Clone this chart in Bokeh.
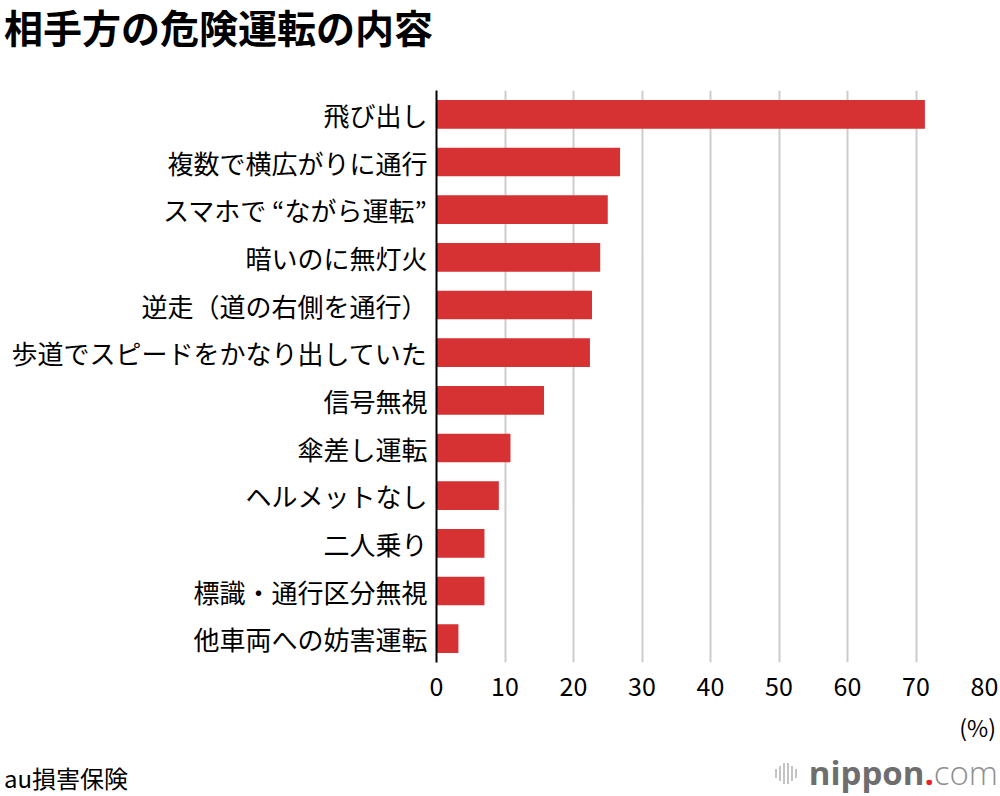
from bokeh.embed import file_html
from bokeh.layouts import column
from bokeh.models import ColumnDataSource, Div, FactorRange, FixedTicker
from bokeh.plotting import figure
from bokeh.resources import INLINE

# data (percent)
categories = [
    "飛び出し",
    "複数で横広がりに通行",
    "スマホで “ながら運転”",
    "暗いのに無灯火",
    "逆走（道の右側を通行）",
    "歩道でスピードをかなり出していた",
    "信号無視",
    "傘差し運転",
    "ヘルメットなし",
    "二人乗り",
    "標識・通行区分無視",
    "他車両への妨害運転",
]
shares = [71.3, 26.8, 25.0, 23.9, 22.7, 22.4, 15.7, 10.8, 9.1, 7.0, 7.0, 3.2]
x_ticks = [0, 10, 20, 30, 40, 50, 60, 70, 80]

title_text = "相手方の危険運転の内容"
unit_text = "(%)"
source_text = "au損害保険"

FONT = "Noto Sans CJK JP"
RED = "#d63133"

source = ColumnDataSource(dict(cat=categories, share=shares))

p = figure(
    width=1000,
    height=648,
    x_range=(0, 80),
    y_range=FactorRange(factors=categories[::-1]),
    output_backend="svg",
    toolbar_location=None,
    min_border_left=436,
    min_border_right=16,
    min_border_top=30,
    min_border_bottom=46,
)
p.outline_line_color = None
p.background_fill_color = "white"

p.hbar(y="cat", right="share", height=0.6, source=source, color=RED, line_color=None)

# x axis: labels only, vertical grid
p.xaxis.ticker = FixedTicker(ticks=x_ticks)
p.xaxis.axis_line_color = None
p.xaxis.major_tick_line_color = None
p.xaxis.minor_tick_line_color = None
p.xaxis.major_tick_out = 0
p.xaxis.major_tick_in = 0
p.xaxis.major_label_standoff = 14
p.xaxis.major_label_text_font = FONT
p.xaxis.major_label_text_font_size = "25px"
p.xaxis.major_label_text_color = "black"

p.xgrid.ticker = FixedTicker(ticks=x_ticks)
p.xgrid.grid_line_color = "#cccccc"
p.xgrid.grid_line_width = 2
p.ygrid.grid_line_color = None

# y axis: category names, black base line
p.yaxis.axis_line_color = "black"
p.yaxis.axis_line_width = 2
p.yaxis.major_tick_line_color = None
p.yaxis.minor_tick_line_color = None
p.yaxis.major_tick_out = 0
p.yaxis.major_tick_in = 0
p.yaxis.major_label_standoff = 9
p.yaxis.major_label_text_font = FONT
p.yaxis.major_label_text_font_size = "26px"
p.yaxis.major_label_text_color = "black"

# heading above the chart
head = Div(
    text=(
        f"<div style='position:relative;width:1000px;height:60px;'>"
        f"<div style=\"position:absolute;left:4px;top:3px;font-family:'{FONT}';"
        f"font-size:39px;font-weight:bold;line-height:46px;color:#000;white-space:nowrap;\">"
        f"{title_text}</div></div>"
    ),
    width=1000,
    height=60,
    margin=0,
)

# unit, source and nippon.com mark below the chart
logo_bar_heights = [9, 15, 21, 21, 15, 9]
bars_html = "".join(
    f"<span style='display:inline-block;width:2px;height:{h}px;margin-right:2px;"
    f"background:#c4c4c4;'></span>"
    for h in logo_bar_heights
)
foot = Div(
    text=(
        f"<div style=\"position:relative;width:1000px;height:88px;font-family:'{FONT}';color:#000;\">"
        f"<div style='position:absolute;right:4px;top:5px;font-size:23px;line-height:28px;'>{unit_text}</div>"
        f"<div style='position:absolute;left:4px;top:56px;font-size:24px;line-height:28px;'>{source_text}</div>"
        f"<div style='position:absolute;right:2px;top:45px;height:40px;display:flex;align-items:center;"
        f"white-space:nowrap;'>"
        f"<span style='display:inline-flex;align-items:center;margin-right:10px;'>{bars_html}</span>"
        f"<span style=\"font-family:'Open Sans';font-size:33px;line-height:40px;\">"
        f"<span style='font-weight:bold;color:#6e6e6e;'>nippon</span>"
        f"<span style='font-weight:bold;color:#e8202a;'>.</span>"
        f"<span style='font-weight:300;color:#8f8f8f;'>com</span></span>"
        f"</div></div>"
    ),
    width=1000,
    height=88,
    margin=0,
)

layout = column(head, p, foot, spacing=0)

open("out.html", "w").write(file_html(layout, INLINE))
